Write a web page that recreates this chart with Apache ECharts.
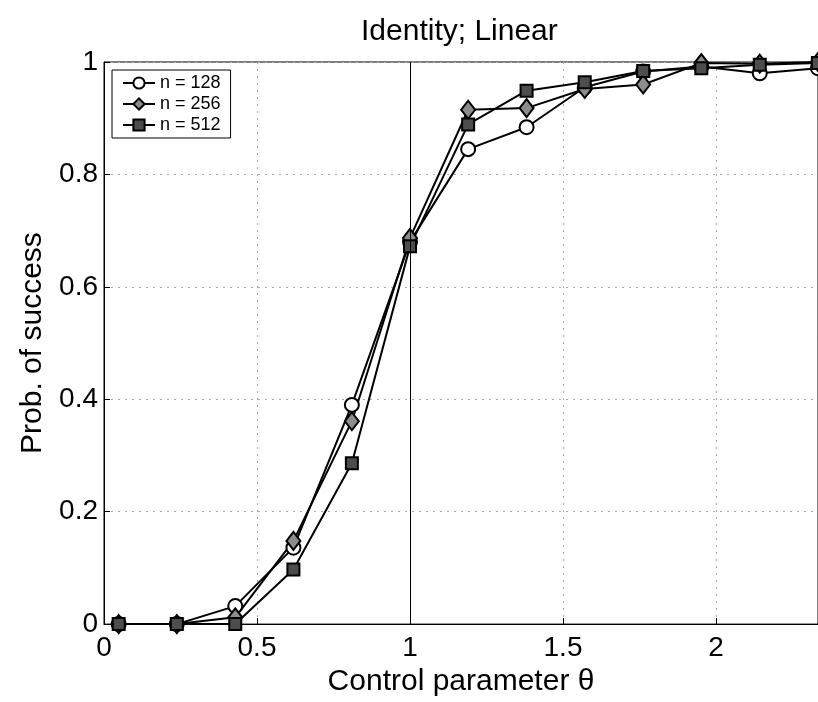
<!DOCTYPE html>
<html lang="en">
<head>
  <meta charset="UTF-8">
  <title>Identity; Linear</title>
  <style>
    * { margin: 0; padding: 0; }
    body { background: #fff; }
  </style>
  <script src="https://cdn.jsdelivr.net/npm/echarts@6/dist/echarts.min.js"></script>
</head>
<body>
  <div id="chart" style="width: 818px; height: 702px;"></div>
  <script>
    // control parameter theta
    const theta = [0.048, 0.238, 0.429, 0.619, 0.810, 1.0, 1.190, 1.381, 1.571, 1.762, 1.952, 2.143, 2.333]

    // prob. of success for each n
    const n128 = [0, 0, 0.032, 0.136, 0.390, 0.680, 0.845, 0.884, 0.955, 0.983, 0.992, 0.980, 0.989]
    const n256 = [0, 0, 0.012, 0.148, 0.361, 0.687, 0.915, 0.918, 0.952, 0.960, 0.998, 0.997, 1.0]
    const n512 = [0, 0, 0, 0.097, 0.286, 0.672, 0.889, 0.949, 0.964, 0.984, 0.989, 0.995, 0.998]

    const seriesNames = ['n = 128', 'n = 256', 'n = 512']

    const pairs = ys => theta.map((x, i) => [x, ys[i]])

    const font = 'Liberation Sans, Arial, sans-serif'
    const chart = echarts.init(document.getElementById('chart'))

    const lineStyle = { color: '#000', width: 2 }

    chart.setOption({
      backgroundColor: '#fff',
      animation: false,
      title: {
        text: 'Identity; Linear',
        left: 356,
        top: 12,
        textStyle: { fontFamily: font, fontSize: 30, fontWeight: 'normal', color: '#000' }
      },
      legend: {
        orient: 'vertical',
        left: 112,
        top: 70,
        padding: [4, 10, 4, 10],
        itemGap: 3,
        itemWidth: 32,
        itemHeight: 14,
        backgroundColor: '#fff',
        borderColor: '#000',
        borderWidth: 1,
        textStyle: { fontFamily: font, fontSize: 18, color: '#000' },
        data: seriesNames
      },
      grid: {
        left: 104, right: 0, top: 62, bottom: 71,
        show: true, borderColor: '#000', borderWidth: 1
      },
      xAxis: {
        type: 'value',
        min: 0,
        max: 7 / 3,
        interval: 0.5,
        name: 'Control parameter θ',
        nameLocation: 'middle',
        nameGap: 38,
        nameTextStyle: { fontFamily: font, fontSize: 30, color: '#000' },
        axisLine: { lineStyle: { color: '#000' } },
        axisTick: { inside: true, length: 6, lineStyle: { color: '#000' } },
        axisLabel: { fontFamily: font, fontSize: 28, color: '#000', margin: 10, showMaxLabel: false },
        splitLine: { show: true, lineStyle: { color: '#aaa', type: [2, 5] } }
      },
      yAxis: {
        type: 'value',
        min: 0,
        max: 1,
        interval: 0.2,
        name: 'Prob. of success',
        nameLocation: 'middle',
        nameGap: 56,
        nameTextStyle: { fontFamily: font, fontSize: 30, color: '#000' },
        axisLine: { show: true, lineStyle: { color: '#000' } },
        axisTick: { show: true, inside: true, length: 6, lineStyle: { color: '#000' } },
        axisLabel: { fontFamily: font, fontSize: 28, color: '#000', margin: 6 },
        splitLine: { show: true, lineStyle: { color: '#aaa', type: [2, 5] } }
      },
      series: [
        {
          name: seriesNames[0],
          type: 'line',
          data: pairs(n128),
          symbol: 'circle',
          symbolSize: 14,
          lineStyle,
          itemStyle: { color: '#fff', borderColor: '#000', borderWidth: 2 },
          markLine: {
            silent: true,
            symbol: 'none',
            label: { show: false },
            lineStyle: { color: '#000', width: 1, type: 'solid' },
            data: [{ xAxis: 1 }]
          }
        },
        {
          name: seriesNames[1],
          type: 'line',
          data: pairs(n256),
          symbol: 'diamond',
          symbolSize: [14, 18],
          lineStyle,
          itemStyle: { color: '#8c8c8c', borderColor: '#000', borderWidth: 2 }
        },
        {
          name: seriesNames[2],
          type: 'line',
          data: pairs(n512),
          symbol: 'rect',
          symbolSize: 12,
          lineStyle,
          itemStyle: { color: '#4d4d4d', borderColor: '#000', borderWidth: 2 }
        }
      ]
    })
  </script>
</body>
</html>
